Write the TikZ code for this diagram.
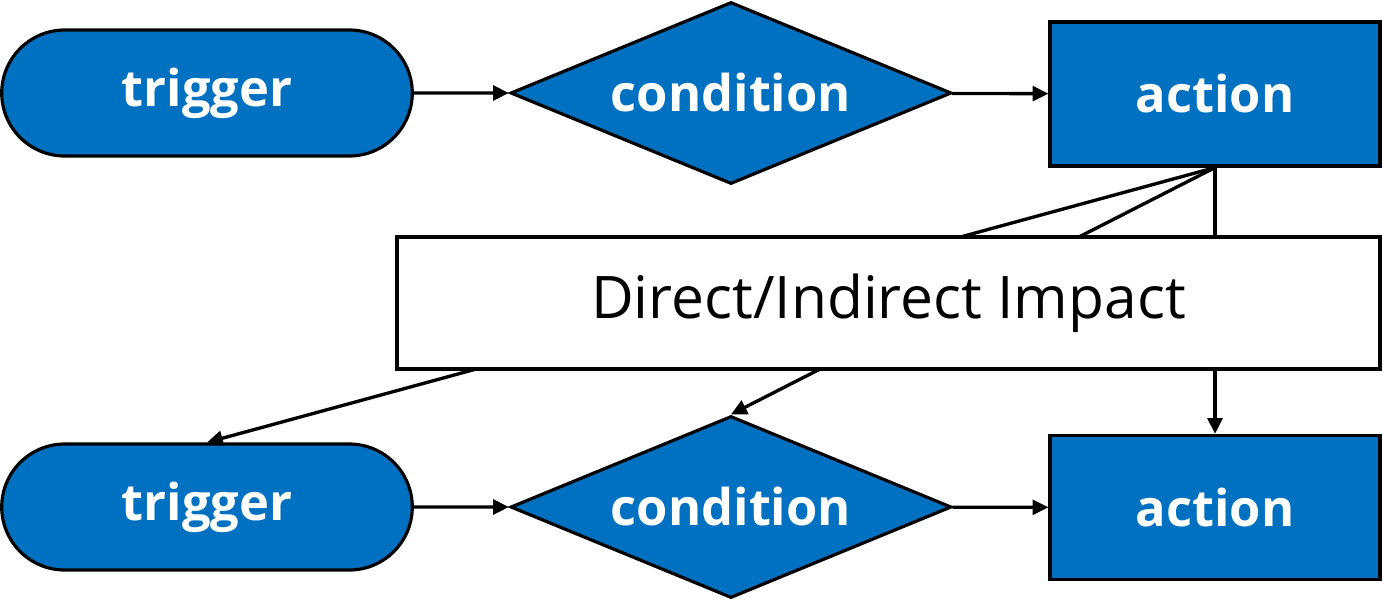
\documentclass[tikz,border=0pt]{standalone}
\usepackage{fontspec}
\setmainfont{Open Sans}
\definecolor{flowBlue}{HTML}{0070C0}
\usetikzlibrary{arrows.meta, positioning, shapes.geometric, shapes.misc}

\begin{document}
\begin{tikzpicture}[
  every node/.style={align=center},
  trig/.style={rounded rectangle, draw=black, line width=0.9pt, fill=flowBlue,
               minimum width=4.34cm, minimum height=1.26cm, text=white,
               font=\fontsize{14.4}{17}\selectfont\bfseries},
  cond/.style={diamond, draw=black, line width=0.9pt, fill=flowBlue, aspect=2.4,
               inner sep=0pt, minimum width=4.41cm, minimum height=1.82cm, text=white,
               font=\fontsize{14.4}{17}\selectfont\bfseries},
  act/.style={rectangle, draw=black, line width=0.9pt, fill=flowBlue,
              minimum width=3.3cm, minimum height=1.44cm, text=white,
              font=\fontsize{14.4}{17}\selectfont\bfseries},
  impact/.style={rectangle, draw=black, line width=0.9pt, fill=white,
                 minimum width=9.83cm, minimum height=1.32cm,
                 font=\fontsize{16.7}{20}\selectfont},
  arr/.style={-{Triangle[length=4.5pt, width=4.2pt]}, line width=0.95pt}
]
  \useasboundingbox (0,0) rectangle (13.83,-6);

  % first rule
  \node[trig] (trig1) at (2.07,-0.93)  {trigger};
  \node[cond] (cond1) at (7.31,-0.93)  {condition};
  \node[act]  (act1)  at (12.15,-0.94) {action};

  % second rule
  \node[trig] (trig2) at (2.07,-5.07)  {trigger};
  \node[cond] (cond2) at (7.31,-5.07)  {condition};
  \node[act]  (act2)  at (12.15,-5.075) {action};

  \draw[arr] (trig1) -- (cond1);
  \draw[arr] (cond1) -- (act1);
  \draw[arr] (trig2) -- (cond2);
  \draw[arr] (cond2) -- (act2);

  % impact of the first action
  \draw[arr] (act1.south) -- (trig2.north);
  \draw[arr] (act1.south) -- (cond2.north);
  \draw[arr] (act1.south) -- (act2.north);

  \node[impact] (imp) at (8.885,-3.03) {Direct/Indirect Impact};
\end{tikzpicture}
\end{document}
